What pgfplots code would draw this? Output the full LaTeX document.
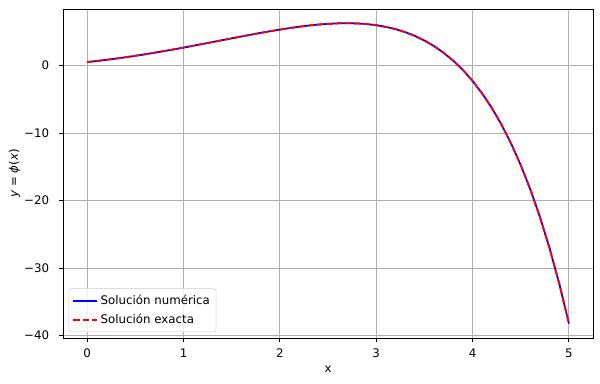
\documentclass[border=0pt]{standalone}
\usepackage{pgfplots}
\pgfplotsset{compat=1.18}
\usepackage{pgfplotstable}
\usepackage{fontspec}
\setmainfont{DejaVu Sans}
\definecolor{gridc}{HTML}{B0B0B0}
\definecolor{legc}{HTML}{CCCCCC}
\pgfplotstableread{
x y
0.0 0.50000
0.1 0.65741
0.2 0.82930
0.3 1.01507
0.4 1.21409
0.5 1.42564
0.6 1.64894
0.7 1.88312
0.8 2.12723
0.9 2.38020
1.0 2.64086
1.1 2.90792
1.2 3.17994
1.3 3.45535
1.4 3.73240
1.5 4.00916
1.6 4.28349
1.7 4.55303
1.8 4.81518
1.9 5.06705
2.0 5.30547
2.1 5.52691
2.2 5.72749
2.3 5.90291
2.4 6.04841
2.5 6.15875
2.6 6.22813
2.7 6.25013
2.8 6.21768
2.9 6.12293
3.0 5.95723
3.1 5.71102
3.2 5.37373
3.3 4.93368
3.4 4.37795
3.5 3.69227
3.6 2.86088
3.7 1.86635
3.8 0.68941
3.9 -0.69123
4.0 -2.29908
4.1 -4.16015
4.2 -6.30317
4.3 -8.75990
4.4 -11.56544
4.5 -14.75857
4.6 -18.38216
4.7 -22.48359
4.8 -27.11521
4.9 -32.33489
5.0 -38.20658
}\numdata
\pgfplotstableread{
x y
0.0 0.50000
0.1 0.65741
0.2 0.82930
0.3 1.01507
0.4 1.21409
0.5 1.42564
0.6 1.64894
0.7 1.88312
0.8 2.12723
0.9 2.38020
1.0 2.64086
1.1 2.90792
1.2 3.17994
1.3 3.45535
1.4 3.73240
1.5 4.00916
1.6 4.28349
1.7 4.55303
1.8 4.81518
1.9 5.06705
2.0 5.30547
2.1 5.52691
2.2 5.72749
2.3 5.90291
2.4 6.04841
2.5 6.15875
2.6 6.22813
2.7 6.25013
2.8 6.21768
2.9 6.12293
3.0 5.95723
3.1 5.71102
3.2 5.37373
3.3 4.93368
3.4 4.37795
3.5 3.69227
3.6 2.86088
3.7 1.86635
3.8 0.68941
3.9 -0.69123
4.0 -2.29908
4.1 -4.16015
4.2 -6.30317
4.3 -8.75990
4.4 -11.56544
4.5 -14.75857
4.6 -18.38216
4.7 -22.48359
4.8 -27.11521
4.9 -32.33489
5.0 -38.20658
}\exactdata
\begin{document}
\begin{tikzpicture}
\begin{axis}[
  scale only axis,
  width=381.6pt, height=236.9pt,
  xmin=-0.25, xmax=5.25,
  ymin=-40.35, ymax=8.35,
  xtick={0,1,2,3,4,5},
  xticklabels={0,1,2,3,4,5},
  ytick={-40,-30,-20,-10,0},
  yticklabels={−40,−30,−20,−10,0},
  tick pos=left,
  tick align=outside,
  major tick length=3pt,
  tick style={black, line width=0.68pt},
  axis line style={black, line width=0.68pt},
  grid=major,
  grid style={gridc, line width=0.68pt},
  tick label style={font=\fontsize{8.5}{10}\selectfont},
  xticklabel style={yshift=-1pt},
  yticklabel style={xshift=-3.5pt},
  label style={font=\fontsize{8.5}{10}\selectfont},
  xlabel={x},
  ylabel={\textit{y} = \textit{ϕ}(\textit{x})},
  xlabel style={yshift=1pt},
  ylabel shift=-4pt,
  legend style={at={(0.0105,0.018)}, anchor=south west,
    draw=legc, rounded corners=2pt, fill=white, fill opacity=0.8, text opacity=1,
    font=\fontsize{8.5}{10}\selectfont, row sep=1.5pt, inner sep=2.5pt},
  legend cell align=left,
]
\addplot[blue, line width=1.28pt] table {\numdata};
\addlegendentry{Solución numérica}
\addplot[red, line width=1.28pt, dash pattern=on 4.7pt off 2pt] table {\exactdata};
\addlegendentry{Solución exacta}
\end{axis}
\pgfresetboundingbox
\path[use as bounding box] (current axis.south west) ++(-45.4pt,-32.4pt) rectangle ([shift={(5pt,6.5pt)}]current axis.north east);
\end{tikzpicture}
\end{document}
